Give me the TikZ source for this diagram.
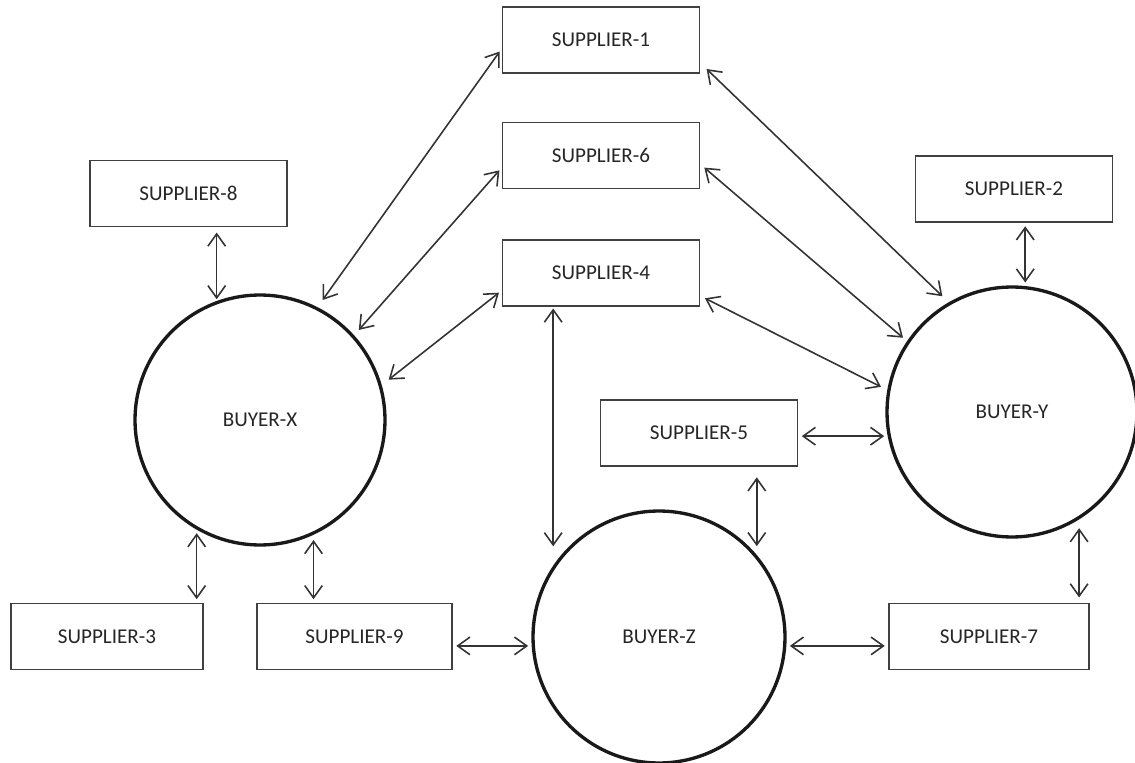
\documentclass[tikz,border=0pt]{standalone}
\usepackage{fontspec}
\setmainfont{Carlito}
\usetikzlibrary{arrows.meta}

\begin{document}
\begin{tikzpicture}[x=0.02cm,y=-0.02cm,>={Straight Barb[length=7pt,width=10pt]},
  supp/.style={rectangle,draw=black!75,line width=0.9pt,minimum width=3.94cm,
    minimum height=1.32cm,inner sep=0pt,text=black!85,font=\fontsize{12}{14}\selectfont},
  buyer/.style={circle,draw=black!90,line width=1.9pt,minimum size=5cm,inner sep=0pt,
    text=black!85,font=\fontsize{12}{14}\selectfont},
  link/.style={<->,line width=0.9pt,black!80}]

  \useasboundingbox (0,0) rectangle (1135,763);

  % suppliers
  \node[supp] (s1) at (601,40) {SUPPLIER-1};
  \node[supp] (s6) at (601,155.5) {SUPPLIER-6};
  \node[supp] (s4) at (601,273) {SUPPLIER-4};
  \node[supp] (s8) at (188.5,193.5) {SUPPLIER-8};
  \node[supp] (s2) at (1014,189) {SUPPLIER-2};
  \node[supp] (s5) at (699,433) {SUPPLIER-5};
  \node[supp,minimum width=3.84cm] (s3) at (107,636.5) {SUPPLIER-3};
  \node[supp,minimum width=3.9cm] (s9) at (354.5,636.5) {SUPPLIER-9};
  \node[supp,minimum width=4cm] (s7) at (989,636.5) {SUPPLIER-7};

  % buyers
  \node[buyer] (bx) at (260,420) {BUYER-X};
  \node[buyer] (by) at (1012,412) {BUYER-Y};
  \node[buyer,minimum size=5.04cm] (bz) at (659,637) {BUYER-Z};

  % links to buyer x
  \draw[link,shorten <=2pt,shorten >=5pt] (s1.185) -- (bx.63);
  \draw[link,shorten <=2pt,shorten >=4pt] (s6.187) -- (bx.42);
  \draw[link,shorten <=2pt,shorten >=5pt] (s4.190) -- (bx.16);
  \draw[link,shorten <=3pt,shorten >=1pt] (bx.110 |- s8.south) -- (bx.110);
  \draw[link,shorten <=2pt,shorten >=2pt] (bx.-120) -- (bx.-120 |- s3.north);
  \draw[link,shorten <=3pt,shorten >=2pt] (bx.-65) -- (bx.-65 |- s9.north);

  % links to buyer y
  \draw[link,shorten <=5pt,shorten >=5pt] (s1.-13) -- (by.120);
  \draw[link,shorten <=3pt,shorten >=3pt] (s6.-5) -- (by.146);
  \draw[link,shorten <=3pt,shorten >=4pt] (s4.-13) -- (by.170);
  \draw[link,shorten <=2pt,shorten >=2pt] (by.84 |- s2.south) -- (by.84);
  \draw[link,shorten <=2pt,shorten >=2pt] (by.191 -| s5.east) -- (by.191);
  \draw[link,shorten <=5pt,shorten >=3pt] (by.-58) -- (by.-58 |- s7.north);

  % links to buyer z
  \draw[link,shorten <=1pt,shorten >=11pt] (bz.146 |- s4.south) -- (bz.146);
  \draw[link,shorten <=6pt,shorten >=5pt] (bz.40 |- s5.south) -- (bz.40);
  \draw[link,shorten <=2pt,shorten >=2pt] (bz.184 -| s9.east) -- (bz.184);
  \draw[link,shorten <=2pt,shorten >=2pt] (bz.-4) -- (bz.-4 -| s7.west);

\end{tikzpicture}
\end{document}
